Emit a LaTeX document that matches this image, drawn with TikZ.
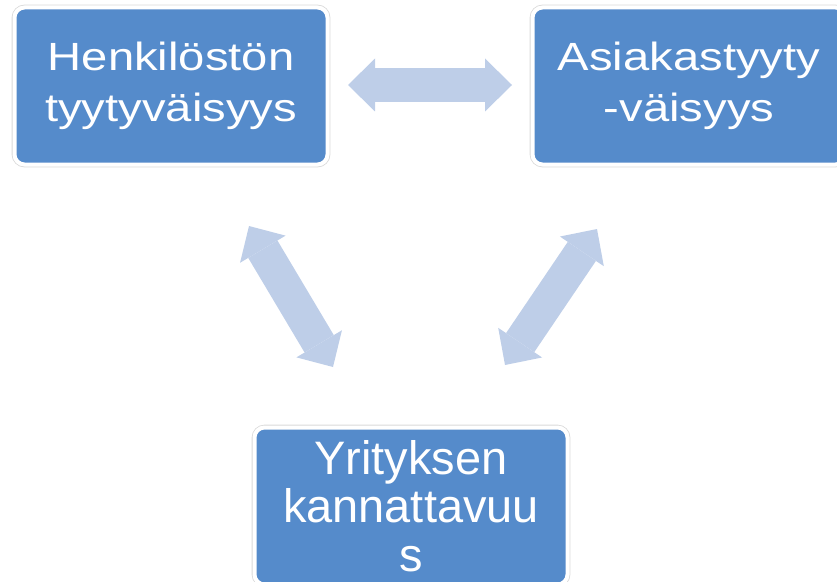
\documentclass[tikz,border=0pt]{standalone}
\usepackage{fontspec}
\setmainfont{Liberation Sans}
\newfontfamily\wideboxfont[FakeStretch=1.2]{Liberation Sans}
\usetikzlibrary{arrows.meta}
\definecolor{boxblue}{RGB}{85,139,203}
\definecolor{arrowblue}{RGB}{190,206,232}

\begin{document}
\begin{tikzpicture}[
  x=0.75pt, y=-0.75pt,
  box/.style={rounded corners=7.5pt, fill=boxblue, draw=white, line width=3pt,
              preaction={draw=gray!30, line width=4.2pt},
              minimum width=234.75pt, minimum height=117.75pt,
              inner sep=0pt, align=center, text=white},
  topbox/.style={box, font=\wideboxfont\fontsize{29.5}{38.5}\selectfont},
  bottombox/.style={box, font=\fontsize{35.2}{36.5}\selectfont},
  tip/.tip={Triangle[length=20.25pt, width=39.75pt, line width=0pt]},
  link/.style={arrowblue, line width=25.5pt, tip-tip},
]
  \useasboundingbox (0, 0) rectangle (837, 581);
  \clip (0, 0) rectangle (837, 581);

  % Three factors
  \node[topbox] (henkilosto) at (171, 86) {Henkilöstön\\tyytyväisyys};
  \node[topbox] (asiakas) at (689, 86) {Asiakastyyty\\-väisyys};
  \node[bottombox] (kannattavuus) at (411, 506) {Yrityksen\\kannattavuu\\s};

  % Two-way links between them
  \coordinate (hkL) at (348, 85);
  \coordinate (hkR) at (512, 85);
  \coordinate (hyT) at (249, 226);
  \coordinate (hyB) at (333, 367);
  \coordinate (ayT) at (597, 229);
  \coordinate (ayB) at (505, 365);
  \draw[link] (hkL) -- (hkR);
  \draw[link] (hyT) -- (hyB);
  \draw[link] (ayT) -- (ayB);
\end{tikzpicture}
\end{document}
